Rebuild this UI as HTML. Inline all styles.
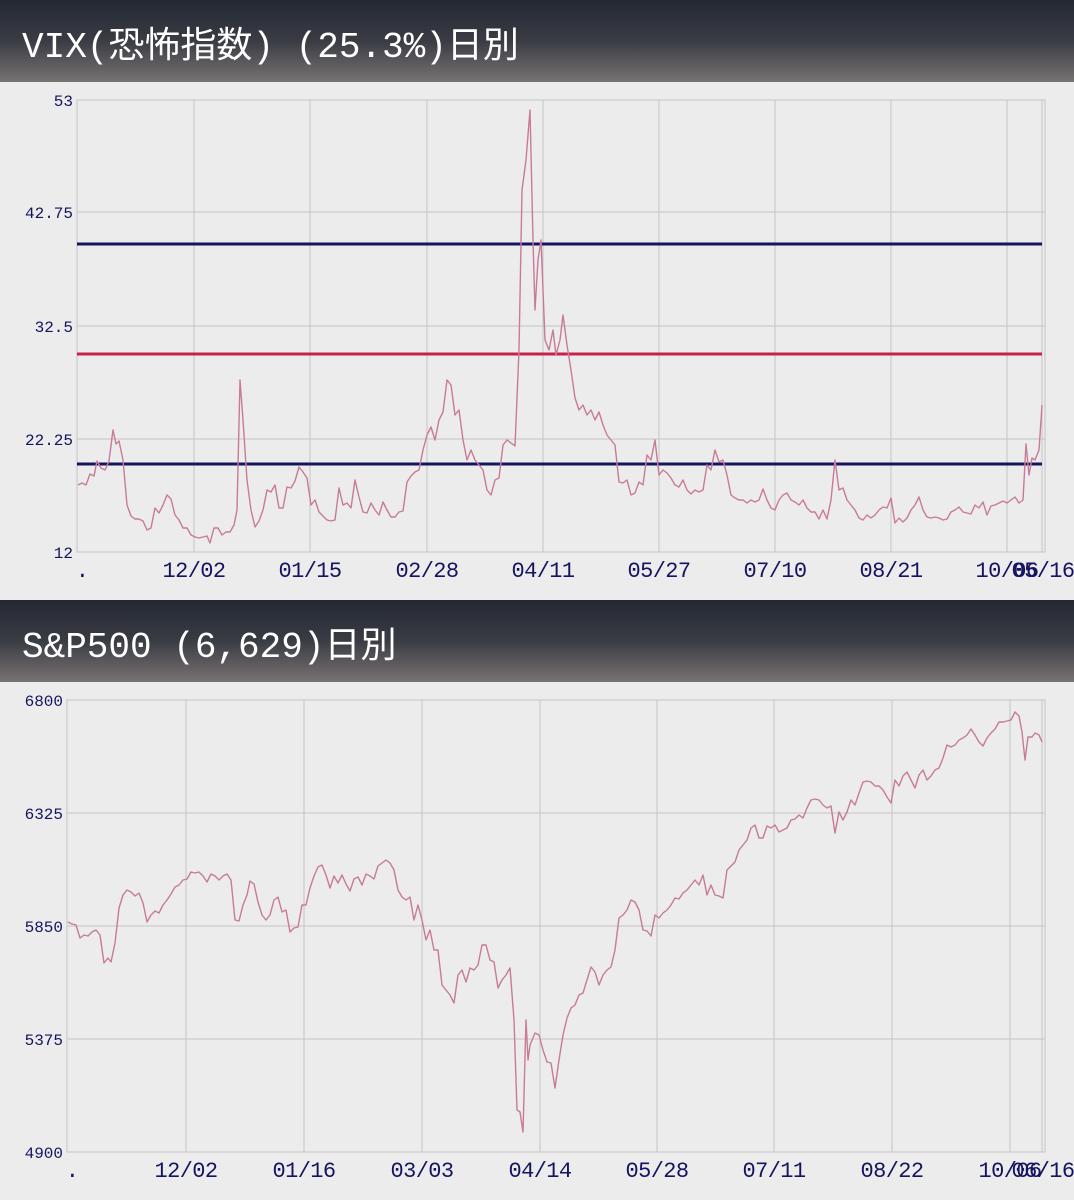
<!DOCTYPE html>
<html><head><meta charset="utf-8"><style>
body{margin:0;width:1074px;height:1200px;background:#ececec;overflow:hidden;font-family:"Liberation Mono","Noto Sans CJK JP",monospace}
.h{position:absolute;left:0;width:1074px;height:82px;background:linear-gradient(#232833,#3a3c44 50%,#787373);color:#fff;font-family:"Liberation Mono","Noto Sans CJK JP",monospace;font-size:36px;line-height:36px;padding:30px 0 0 22px;box-sizing:border-box;white-space:pre}
svg{position:absolute;left:0;top:0}
</style></head><body>
<div class="h" style="top:0">VIX(恐怖指数) (25.3%)日別</div>
<div class="h" style="top:600px">S&amp;P500 (6,629)日別</div>
<svg width="1074" height="1200" font-family="Liberation Mono, monospace">
<g stroke="#c4c4c4" stroke-width="1" fill="none">
<rect x="77" y="100" width="968" height="452"/>
<path d="M77 212H1045M77 326H1045M77 439H1045M194 100V552M310 100V552M427 100V552M543 100V552M659 100V552M775 100V552M891 100V552M1007 100V552M1042 100V552"/>
<rect x="67" y="700" width="978" height="452"/>
<path d="M67 813H1045M67 926H1045M67 1039H1045M186 700V1152M304 700V1152M422 700V1152M540 700V1152M657 700V1152M774 700V1152M892 700V1152M1010 700V1152M1042 700V1152"/>
</g>
<g stroke-width="3">
<line x1="77" y1="244" x2="1042" y2="244" stroke="#141460"/>
<line x1="77" y1="354" x2="1042" y2="354" stroke="#c8204a"/>
<line x1="77" y1="464" x2="1042" y2="464" stroke="#141460"/>
</g>
<g fill="#141460" font-size="16" text-anchor="end">
<text x="73" y="106">53</text><text x="73" y="218">42.75</text><text x="73" y="332">32.5</text><text x="73" y="445">22.25</text><text x="73" y="558">12</text>
<text x="63" y="706">6800</text><text x="63" y="819">6325</text><text x="63" y="932">5850</text><text x="63" y="1045">5375</text><text x="63" y="1158">4900</text>
</g>
<g fill="#141460" font-size="22" text-anchor="middle" letter-spacing="-0.6">
<text x="82" y="577">.</text><text x="194" y="577">12/02</text><text x="310" y="577">01/15</text><text x="427" y="577">02/28</text><text x="543" y="577">04/11</text><text x="659" y="577">05/27</text><text x="775" y="577">07/10</text><text x="891" y="577">08/21</text><text x="1007" y="577">10/06</text><text x="1043" y="577">05/16</text>
<text x="72" y="1177">.</text><text x="186" y="1177">12/02</text><text x="304" y="1177">01/16</text><text x="422" y="1177">03/03</text><text x="540" y="1177">04/14</text><text x="657" y="1177">05/28</text><text x="774" y="1177">07/11</text><text x="892" y="1177">08/22</text><text x="1010" y="1177">10/06</text><text x="1043" y="1177">06/16</text>
</g>
<g fill="none" stroke="#c87a98" stroke-width="1.4" stroke-linejoin="round">
<polyline points="78,485 82,483 86,485 90,474 94,476 97,461 101,468 105,470 109,461 113,430 116,444 119,441 123,460 127,505 131,516 135,519 139,519 143,521 147,530 151,528 155,508 159,513 163,505 167,495 171,499 175,515 179,520 183,528 187,528 191,535 195,537 199,538 203,537 207,536 210,543 214,528 218,528 222,535 226,532 230,532 234,525 237,510 240,380 243,420 247,480 251,510 255,527 259,521 263,510 267,490 271,492 275,485 279,508 283,508 287,487 291,488 295,481 299,467 303,472 307,478 311,505 315,500 319,512 323,516 327,520 331,521 335,520 339,488 343,505 347,503 351,508 355,480 359,497 363,512 367,513 371,503 375,510 379,515 383,502 387,510 391,517 395,517 399,512 403,511 407,482 411,476 415,472 419,470 423,450 427,435 431,427 435,440 439,420 443,412 447,380 451,385 455,415 459,410 463,440 467,460 471,450 475,460 479,465 483,470 487,490 491,495 495,480 499,478 503,445 507,440 511,443 515,446 519,350 522,190 526,160 530,110 533,240 535,310 538,260 541,240 545,340 549,350 553,330 556,355 560,340 563,315 567,345 571,370 575,398 579,410 583,405 587,415 591,410 595,420 599,412 603,425 607,435 611,440 615,445 619,482 623,483 627,480 631,495 635,493 639,482 643,485 647,455 651,460 655,440 659,475 663,470 667,473 671,478 675,485 679,487 683,480 687,490 691,494 695,490 699,492 703,490 707,465 711,470 715,450 719,462 723,460 727,475 731,495 735,498 739,500 743,500 747,503 751,500 755,502 759,500 763,489 767,500 771,508 775,510 779,500 783,495 787,493 791,500 795,502 799,505 803,500 807,508 811,512 815,512 819,519 823,510 827,519 831,500 835,460 839,490 843,488 847,500 851,505 855,510 859,518 863,520 867,515 871,518 875,515 879,510 883,507 887,508 891,498 895,523 899,518 903,522 907,518 911,510 915,505 919,497 923,510 927,517 931,518 935,517 939,518 943,520 947,519 951,512 955,510 959,507 963,512 967,513 971,514 975,505 979,508 983,502 987,515 991,506 995,505 999,503 1003,501 1007,503 1011,500 1015,497 1019,503 1023,500 1026,444 1029,475 1032,458 1035,460 1039,450 1042,405"/>
<polyline points="68,922 72,924 76,925 80,938 84,935 88,936 92,932 96,930 100,935 104,963 108,958 111,962 115,943 119,908 123,895 127,890 131,892 135,896 139,893 143,903 147,922 151,915 155,911 159,913 163,905 167,900 171,894 175,887 179,885 183,880 187,879 191,872 195,873 199,872 203,876 207,882 211,874 215,876 219,880 223,876 227,874 231,880 235,920 239,921 243,905 247,895 250,881 254,884 258,902 262,915 266,920 270,915 274,900 278,897 282,912 286,910 290,932 294,928 298,927 302,905 306,905 310,888 314,876 318,867 322,865 326,875 330,888 334,876 338,883 342,875 346,884 350,891 354,879 358,877 362,885 366,874 370,876 374,879 378,866 382,863 386,860 390,863 394,870 398,890 402,897 406,900 410,897 414,920 418,905 422,920 426,940 430,930 434,950 438,950 442,985 446,990 450,995 454,1003 458,975 462,970 466,982 470,968 474,970 478,965 482,945 486,945 490,960 494,962 498,988 502,980 506,975 510,968 514,1020 517,1110 520,1112 523,1132 526,1020 528,1060 530,1045 535,1033 539,1035 543,1050 547,1062 551,1063 555,1088 559,1060 563,1035 567,1018 571,1008 575,1005 579,995 583,993 587,980 591,967 595,972 599,985 603,975 607,970 611,967 615,950 619,918 623,915 627,910 631,900 635,902 639,910 643,930 647,931 651,936 655,915 659,918 663,913 667,910 671,905 675,898 679,899 683,893 687,890 691,885 695,880 699,885 703,875 707,895 711,885 715,895 719,896 723,898 727,870 731,866 735,862 739,850 743,845 747,840 751,828 755,825 759,838 763,838 767,826 771,828 775,825 779,832 783,830 787,828 791,820 795,819 799,815 803,818 807,808 811,800 815,799 819,800 823,805 827,808 831,806 835,833 839,812 843,820 847,812 851,800 855,805 859,793 863,782 867,781 871,782 875,786 879,786 883,790 887,797 891,803 895,780 899,786 903,776 907,772 911,780 915,788 919,775 923,770 927,780 931,776 935,770 939,768 943,758 947,745 951,747 955,745 959,740 963,738 967,735 971,729 975,735 979,742 983,746 987,738 991,733 995,729 999,722 1003,722 1007,721 1011,720 1015,712 1019,716 1022,732 1025,760 1028,737 1032,737 1035,733 1039,735 1042,742"/>
</g>
</svg>
</body></html>
